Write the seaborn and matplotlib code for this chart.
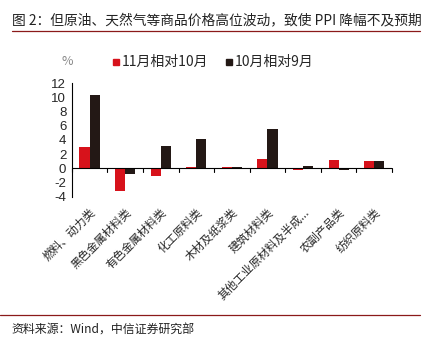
import matplotlib
matplotlib.use("Agg")
import matplotlib.pyplot as plt
import seaborn as sns
import pandas as pd
from matplotlib.lines import Line2D
from matplotlib.patches import Rectangle

categories = ["燃料、动力类", "黑色金属材料类", "有色金属材料类", "化工原料类", "木材及纸浆类",
              "建筑材料类", "其他工业原材料及半成...", "农副产品类", "纺织原料类"]
series_names = ["11月相对10月", "10月相对9月"]
nov_vs_oct = [3.0, -3.15, -1.05, 0.2, 0.2, 1.35, -0.2, 1.15, 1.08]
oct_vs_sep = [10.3, -0.75, 3.15, 4.1, 0.2, 5.5, 0.35, -0.2, 1.08]
y_ticks = [-4, -2, 0, 2, 4, 6, 8, 10, 12]

sns.set_theme(style="white")
plt.rcParams['font.family'] = ['Noto Sans CJK SC', 'DejaVu Sans']

df = pd.DataFrame({
    "cat": categories * 2,
    "series": [series_names[0]] * len(categories) + [series_names[1]] * len(categories),
    "val": nov_vs_oct + oct_vs_sep,
})

fig = plt.figure(figsize=(4.38, 3.49), dpi=100)
ax = fig.add_axes([0.164, 0.436, 0.731, 0.326])
sns.barplot(data=df, x="cat", y="val", hue="series", order=categories,
            hue_order=series_names, palette=["#D7121B", "#231815"],
            width=0.57, ax=ax, legend=False, saturation=1, linewidth=0, gap=0)

ax.set_ylim(-4, 12)
ax.set_yticks(y_ticks)
ax.set_yticklabels([str(t) for t in y_ticks], fontsize=9.5, family=['Liberation Sans'])
ax.set_xlim(-0.5, len(categories) - 0.5)
ax.set_xlabel("")
ax.set_ylabel("")
ax.set_xticks(range(len(categories)))
ax.set_xticklabels(categories, rotation=45, ha="right", rotation_mode="anchor", fontsize=8.2)
ax.tick_params(axis="x", length=0, pad=7)
ax.tick_params(axis="y", length=3, width=0.8, color="black", direction="out", pad=1)
for s in ["top", "right", "bottom"]:
    ax.spines[s].set_visible(False)
ax.spines["left"].set_color("black")
ax.spines["left"].set_linewidth(0.8)
ax.axhline(0, color="black", lw=0.8)
for b in range(len(categories) + 1):
    ax.plot([b - 0.5, b - 0.5], [0, -0.5], color="black", lw=0.8, clip_on=False)

# Title and lines
fig.text(0.027, 0.943, "图 2：但原油、天然气等商品价格高位波动，致使 PPI 降幅不及预期",
         fontsize=9.9, color="#222222", va="center", ha="left")
fig.add_artist(Line2D([0.027, 0.96], [0.912, 0.912], color="#8B1A1A", lw=0.9))
fig.add_artist(Line2D([0.0, 0.96], [0.097, 0.097], color="#8B1A1A", lw=0.9))
fig.text(0.027, 0.055, "资料来源：Wind，中信证券研究部", fontsize=8.6, color="#222222", va="center")

# legend
fig.text(0.153, 0.823, "%", fontsize=9, color="#888888", va="center", ha="center")
fig.add_artist(Rectangle((0.258, 0.814), 0.014, 0.018, color="#D7121B"))
fig.text(0.278, 0.823, series_names[0], fontsize=10, va="center", ha="left")
fig.add_artist(Rectangle((0.516, 0.814), 0.014, 0.018, color="#231815"))
fig.text(0.536, 0.823, series_names[1], fontsize=10, va="center", ha="left")

fig.savefig("out.png", dpi=100)
